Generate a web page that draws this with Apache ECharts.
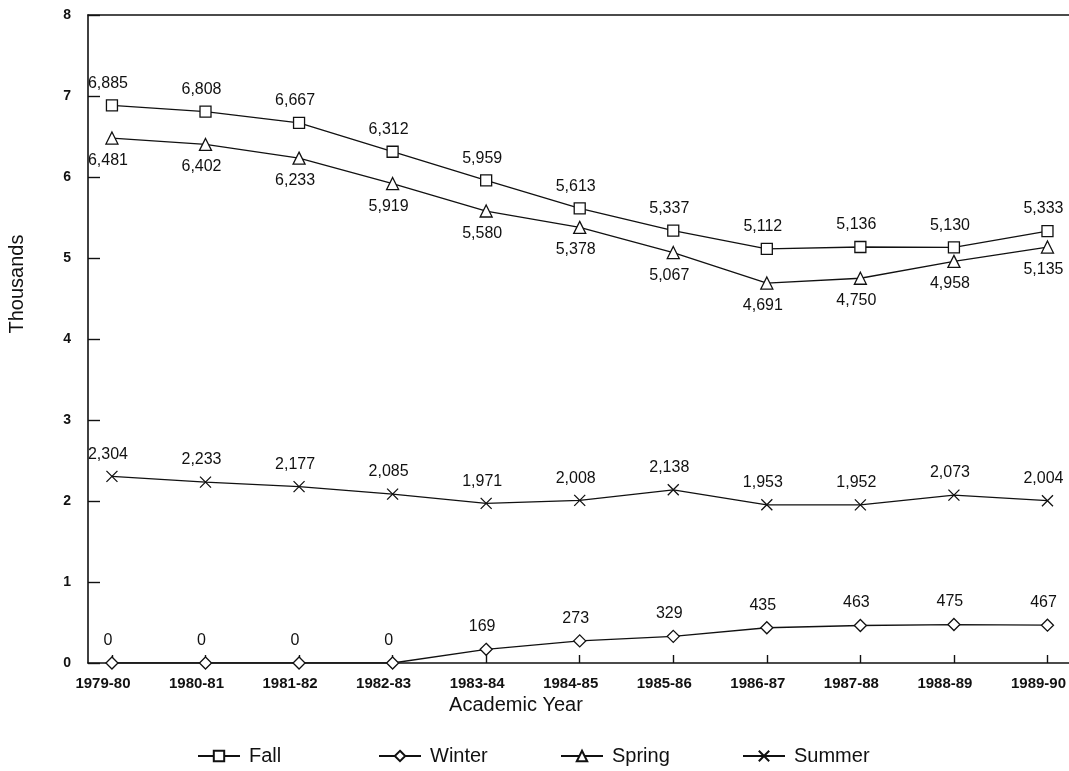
<!DOCTYPE html>
<html>
<head>
<meta charset="utf-8">
<script src="https://cdn.jsdelivr.net/npm/echarts@6/dist/echarts.min.js"></script>
<style>html,body{margin:0;padding:0;background:#fff;}#c{width:1069px;height:771px;}</style>
</head>
<body>
<div id="c"></div>
<script>
const categories = ['1979-80','1980-81','1981-82','1982-83','1983-84','1984-85','1985-86','1986-87','1987-88','1988-89','1989-90'];
const fall   = [6885, 6808, 6667, 6312, 5959, 5613, 5337, 5112, 5136, 5130, 5333];
const winter = [0, 0, 0, 0, 169, 273, 329, 435, 463, 475, 467];
const spring = [6481, 6402, 6233, 5919, 5580, 5378, 5067, 4691, 4750, 4958, 5135];
const summer = [2304, 2233, 2177, 2085, 1971, 2008, 2138, 1953, 1952, 2073, 2004];
const yTicks = [0,1,2,3,4,5,6,7,8];
const seriesNames = ['Fall', 'Winter', 'Spring', 'Summer'];

const font = 'Liberation Sans, Arial, sans-serif';
const fmt = v => v.toLocaleString('en-US');
const toPts = arr => arr.map((v, i) => [i, v / 1000, v]);
const crossPath = 'path://M0,0L10,10M10,0L0,10';

function mk(name, arr, symbol, size, pos, dist) {
  return {
    name, type: 'line', data: toPts(arr), symbol, symbolSize: size,
    lineStyle: { color: '#111', width: 1.3 },
    itemStyle: { color: '#fff', borderColor: '#111', borderWidth: 1.3 },
    label: {
      show: true, position: pos, distance: dist, offset: [-4, 0], color: '#111',
      fontFamily: font, fontSize: 16,
      formatter: p => fmt(p.data[2])
    },
    emphasis: { disabled: true }
  };
}

const legendLefts = [197, 378, 560, 742];

const chart = echarts.init(document.getElementById('c'), null, { renderer: 'canvas' });
chart.setOption({
  animation: false,
  backgroundColor: '#fff',
  grid: { left: 88, right: 0, top: 15, bottom: 108, containLabel: false },
  xAxis: [{
    type: 'value', min: -0.256, max: 10.224,
    axisLine: { show: true, lineStyle: { color: '#111', width: 1.6 }, onZero: false },
    axisTick: { show: true, inside: true, length: 8, lineStyle: { color: '#111', width: 1.4 },
      customValues: categories.map((c, i) => i) },
    axisLabel: { color: '#111', fontFamily: font, fontSize: 15, fontWeight: 'bold', margin: 13,
      padding: [0, 18, 0, 0],
      customValues: categories.map((c, i) => i),
      formatter: v => categories[Math.round(v)] || '' },
    splitLine: { show: false }
  }, {
    type: 'value', position: 'top', min: -0.256, max: 10.224,
    axisLine: { show: true, lineStyle: { color: '#111', width: 1.6 }, onZero: false },
    axisTick: { show: false }, axisLabel: { show: false }, splitLine: { show: false }
  }],
  yAxis: {
    type: 'value', min: 0, max: 8, interval: 1,
    axisLine: { show: true, lineStyle: { color: '#111', width: 1.6 }, onZero: false },
    axisTick: { show: true, inside: true, length: 12, lineStyle: { color: '#111', width: 1.4 } },
    axisLabel: { color: '#111', fontFamily: font, fontSize: 14, fontWeight: 'bold', margin: 17, align: 'right',
      formatter: v => yTicks.includes(v) ? String(v) : '' },
    splitLine: { show: false }
  },
  graphic: [{
    type: 'text', x: 7, y: 284, rotation: Math.PI / 2,
    style: { text: 'Thousands', fill: '#111', font: '20px ' + font, align: 'center', verticalAlign: 'top' }
  }, {
    type: 'text', x: 516, y: 705,
    style: { text: 'Academic Year', fill: '#111', font: '20px ' + font, align: 'center', verticalAlign: 'middle' }
  }],
  legend: seriesNames.map((n, i) => ({
    data: [n], left: legendLefts[i], top: 746, padding: 0,
    itemWidth: 42, itemHeight: 13,
    textStyle: { color: '#111', fontFamily: font, fontSize: 20, padding: [0, 0, 0, 4] }
  })),
  series: [
    mk('Fall', fall, 'rect', 11, 'top', 8),
    mk('Winter', winter, 'diamond', 12, 'top', 8),
    mk('Spring', spring, 'triangle', 12, 'bottom', 8),
    mk('Summer', summer, crossPath, 11, 'top', 8)
  ]
});
</script>
</body>
</html>
